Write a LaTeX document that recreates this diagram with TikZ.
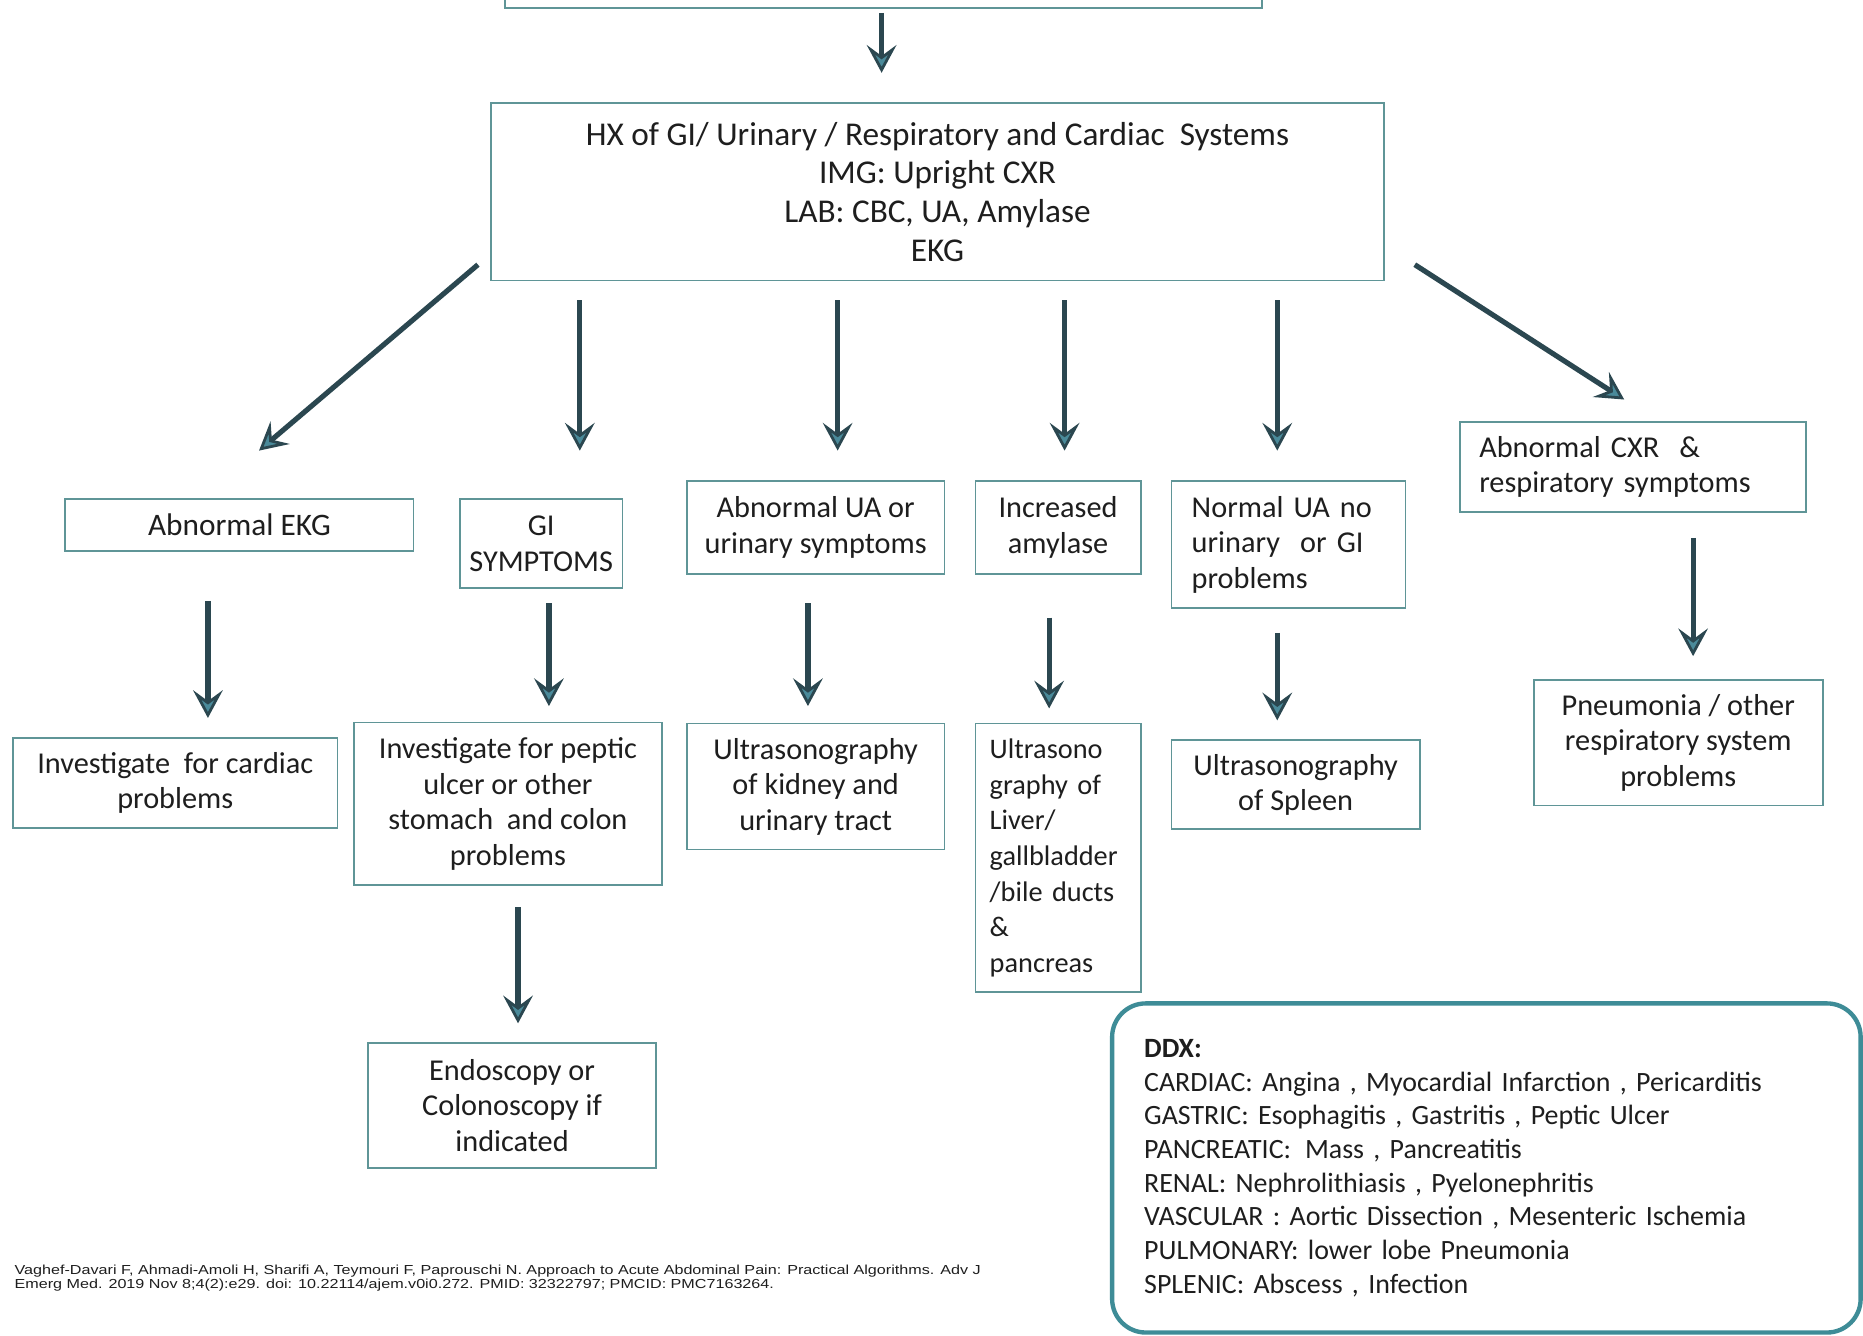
\documentclass[tikz,border=0pt]{standalone}
\usepackage{fontspec}
\setmainfont{Carlito}
\newfontfamily\citefont[FakeStretch=1.235]{Liberation Sans}
\usetikzlibrary{arrows.meta}
\definecolor{boxc}{HTML}{5F9597}
\definecolor{arrc}{HTML}{2B4750}
\definecolor{tipc}{HTML}{4A8A9A}
\definecolor{ddxc}{HTML}{3E8C97}
\definecolor{txt}{HTML}{1E1E1E}
\def\U{0.6pt}
\begin{document}
\begin{tikzpicture}[x=0.6pt,y=-0.6pt,
  box/.style={draw=boxc, line width=0.9pt, inner sep=0pt, align=center,
    text=txt, font=\fontsize{15.3}{18}\selectfont},
  arr/.style={draw=arrc, line width=2.6pt,
    -{Stealth[length=14pt, width=15pt, inset=5.5pt, fill=tipc, line width=1.4pt]}}]
\useasboundingbox (0,0) rectangle (1568,1124);
\clip (0,0) rectangle (1568,1124);
\fill[white] (0,0) rectangle (1568,1124);

% boxes
\node[box, minimum width=637*\U, minimum height=54*\U] (top) at (743.5,-20) {};
\node[box, minimum width=752*\U, minimum height=149*\U,
  font=\fontsize{16.8}{19.6}\selectfont] (hx) at (789,161.5)
  {HX of GI/ Urinary / Respiratory and Cardiac\ \ Systems\\IMG: Upright CXR\\LAB: CBC, UA, Amylase\\EKG};

\node[box, minimum width=293*\U, minimum height=44*\U, font=\fontsize{15.8}{18}\selectfont] (ekg) at (201.5,442) {Abnormal EKG};
\node[box, minimum width=137*\U, minimum height=75*\U] (gi) at (455.5,457.5) {GI\\SYMPTOMS};
\node[box, minimum width=217*\U, minimum height=78*\U] (ua) at (686.5,444) {Abnormal UA or\\urinary symptoms};
\node[box, minimum width=139*\U, minimum height=78*\U] (amy) at (890.5,444) {Increased\\amylase};
\node[box, minimum width=197*\U, minimum height=107*\U, align=left,
  text width=163*\U, inner xsep=17*\U] (norm) at (1084.5,458.5) {Normal UA no\\urinary\ \ or GI\\problems};
\node[box, minimum width=291*\U, minimum height=76*\U, align=left,
  text width=259*\U, inner xsep=16*\U] (cxr) at (1374.5,393) {Abnormal CXR\ \ \&\\respiratory symptoms};

\node[box, minimum width=273*\U, minimum height=76*\U] (cardiac) at (147.5,659) {Investigate\ \ for cardiac\\problems};
\node[box, minimum width=259*\U, minimum height=137*\U] (peptic) at (427.5,676.5) {Investigate for peptic\\ulcer or other\\stomach\ \ and colon\\problems};
\node[box, minimum width=217*\U, minimum height=106*\U] (kidney) at (686.5,662) {Ultrasonography\\of kidney and\\urinary tract};
\node[box, minimum width=139*\U, minimum height=226*\U, align=left,
  text width=115*\U, inner xsep=12*\U, font=\fontsize{14.3}{18}\selectfont] (liver) at (890.5,722) {Ultrasono\\graphy of\\Liver/\\gallbladder\\/bile ducts\\\&\\pancreas};
\node[box, minimum width=209*\U, minimum height=75*\U] (spleen) at (1090.5,660.5) {Ultrasonography\\of Spleen};
\node[box, minimum width=243*\U, minimum height=106*\U] (pneu) at (1412.5,625) {Pneumonia / other\\respiratory system\\problems};
\node[box, minimum width=242*\U, minimum height=105*\U] (endo) at (431,930.5) {Endoscopy or\\Colonoscopy if\\indicated};

% differential diagnosis panel
\node[draw=ddxc, line width=2.2pt, rounded corners=17pt, fill=white,
  minimum width=630*\U, minimum height=277*\U, inner sep=0pt,
  text width=576*\U, inner xsep=27*\U, align=left, text=txt,
  font=\fontsize{14.1}{17}\selectfont] (ddx) at (1251,983)
  {\textbf{DDX:}\\
   CARDIAC: Angina , Myocardial Infarction , Pericarditis\\
   GASTRIC: Esophagitis , Gastritis , Peptic Ulcer\\
   PANCREATIC:\ \,Mass , Pancreatitis\\
   RENAL: Nephrolithiasis , Pyelonephritis\\
   VASCULAR : Aortic Dissection , Mesenteric Ischemia\\
   PULMONARY: lower lobe Pneumonia\\
   SPLENIC: Abscess , Infection};

% reference line
\node[anchor=west, align=left, inner sep=0pt, text=txt,
  font=\citefont\fontsize{6.6}{6.9}\selectfont] (cite) at (12,1075.5)
  {Vaghef-Davari F, Ahmadi-Amoli H, Sharifi A, Teymouri F, Paprouschi N. Approach to Acute Abdominal Pain: Practical Algorithms. Adv J\\
   Emerg Med. 2019 Nov 8;4(2):e29. doi: 10.22114/ajem.v0i0.272. PMID: 32322797; PMCID: PMC7163264.};

% arrow columns
\coordinate (c0) at (742,0);
\coordinate (c1) at (488,0);
\coordinate (c2) at (705,0);
\coordinate (c3) at (896,0);
\coordinate (c4) at (1075,0);
\coordinate (d1) at (175,0);
\coordinate (d2) at (462,0);
\coordinate (d3) at (680,0);
\coordinate (d4) at (883,0);
\coordinate (d5) at (1075,0);
\coordinate (d6) at (1425,0);
\coordinate (d7) at (436,0);

% connectors
\draw[arr, shorten <=3*\U, shorten >=25*\U] (top.south -| c0) -- (hx.north -| c0);
\draw[arr] ([shift={(-10,-14)}]hx.south west) -- ([shift={(16.5,-40)}]ekg.north);
\draw[arr, shorten <=16*\U, shorten >=40*\U] (hx.south -| c1) -- (gi.north -| c1);
\draw[arr, shorten <=16*\U, shorten >=25*\U] (hx.south -| c2) -- (ua.north -| c2);
\draw[arr, shorten <=16*\U, shorten >=25*\U] (hx.south -| c3) -- (amy.north -| c3);
\draw[arr, shorten <=16*\U, shorten >=25*\U] (hx.south -| c4) -- (norm.north -| c4);
\draw[arr] ([shift={(25,-14)}]hx.south east) -- ([shift={(-7.5,-18)}]cxr.north);

\draw[arr, shorten <=41*\U, shorten >=16*\U] (ekg.south -| d1) -- (cardiac.north -| d1);
\draw[arr, shorten <=12*\U, shorten >=13*\U] (gi.south -| d2) -- (peptic.north -| d2);
\draw[arr, shorten <=24*\U, shorten >=14*\U] (ua.south -| d3) -- (kidney.north -| d3);
\draw[arr, shorten <=36*\U, shorten >=12*\U] (amy.south -| d4) -- (liver.north -| d4);
\draw[arr, shorten <=20*\U, shorten >=16*\U] (norm.south -| d5) -- (spleen.north -| d5);
\draw[arr, shorten <=21*\U, shorten >=19*\U] (cxr.south -| d6) -- (pneu.north -| d6);
\draw[arr, shorten <=18*\U, shorten >=16*\U] (peptic.south -| d7) -- (endo.north -| d7);
\end{tikzpicture}
\end{document}
